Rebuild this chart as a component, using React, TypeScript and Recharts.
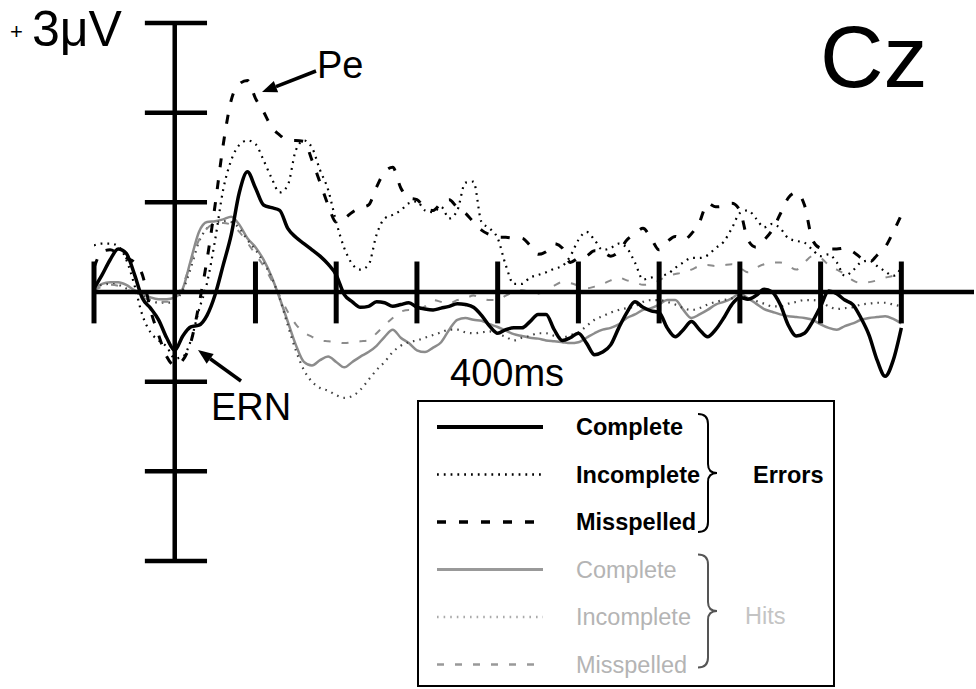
import React from "react";
import { LineChart, Line, XAxis, YAxis, ReferenceLine } from "recharts";

// time in ms, amplitude in microvolts (positive up)
const times = [
  -100, -90, -80, -70, -60, -50, -40, -30, -20, -10,
  0, 10, 20, 30, 40, 50, 60, 70, 80, 90,
  100, 110, 120, 130, 140, 150, 160, 170, 180, 190,
  200, 210, 220, 230, 240, 250, 260, 270, 280, 290,
  300, 310, 320, 330, 340, 350, 360, 370, 380, 390,
  400, 410, 420, 430, 440, 450, 460, 470, 480, 490,
  500, 510, 520, 530, 540, 550, 560, 570, 580, 590,
  600, 610, 620, 630, 640, 650, 660, 670, 680, 690,
  700, 710, 720, 730, 740, 750, 760, 770, 780, 790,
  800, 810, 820, 830, 840, 850, 860, 870, 880, 890, 900,
];

const errComplete = [
  0.04, 0.19, 0.36, 0.48, 0.43, 0.2, -0.07, -0.18, -0.31, -0.51,
  -0.65, -0.49, -0.39, -0.37, -0.26, -0.03, 0.3, 0.64, 1.11, 1.34,
  1.16, 0.97, 0.94, 0.91, 0.71, 0.61, 0.54, 0.47, 0.4, 0.31,
  0.19, -0.03, -0.11, -0.17, -0.16, -0.11, -0.12, -0.16, -0.14, -0.12,
  -0.17, -0.19, -0.2, -0.18, -0.16, -0.13, -0.14, -0.17, -0.26, -0.38,
  -0.46, -0.42, -0.4, -0.4, -0.33, -0.25, -0.25, -0.42, -0.54, -0.51,
  -0.46, -0.57, -0.7, -0.67, -0.59, -0.4, -0.23, -0.11, -0.17, -0.21,
  -0.23, -0.4, -0.5, -0.42, -0.33, -0.42, -0.5, -0.42, -0.29, -0.14,
  -0.06, -0.08, -0.04, 0.03, 0.0, -0.14, -0.37, -0.49, -0.46, -0.33,
  -0.16, 0.01, -0.02, -0.09, -0.14, -0.29, -0.48, -0.76, -0.94, -0.76, -0.4,
];

const errIncomplete = [
  0.52, 0.54, 0.54, 0.51, 0.36, 0.08, -0.26, -0.45, -0.54, -0.61,
  -0.74, -0.72, -0.54, -0.2, 0.1, 0.58, 1.14, 1.47, 1.64, 1.69,
  1.65, 1.47, 1.27, 1.11, 1.19, 1.58, 1.69, 1.61, 1.36, 1.14,
  0.78, 0.49, 0.31, 0.25, 0.3, 0.64, 0.82, 0.86, 0.91, 0.99,
  1.01, 0.91, 0.89, 0.95, 0.82, 0.91, 1.22, 1.23, 0.78, 0.71,
  0.6, 0.3, 0.09, 0.09, 0.16, 0.19, 0.22, 0.26, 0.29, 0.4,
  0.58, 0.67, 0.58, 0.47, 0.49, 0.54, 0.49, 0.33, 0.14, 0.16,
  0.18, 0.2, 0.27, 0.33, 0.38, 0.38, 0.41, 0.49, 0.56, 0.71,
  0.88, 0.91, 0.82, 0.72, 0.76, 0.71, 0.6, 0.57, 0.55, 0.47,
  0.4, 0.42, 0.33, 0.18, 0.24, 0.33, 0.35, 0.29, 0.23, 0.18, 0.27,
];

const errMisspelled = [
  0.27, 0.45, 0.47, 0.43, 0.38, 0.33, 0.19, -0.2, -0.48, -0.72,
  -0.82, -0.76, -0.56, -0.14, 0.36, 0.97, 1.64, 2.14, 2.32, 2.36,
  2.16, 2.01, 1.84, 1.75, 1.69, 1.69, 1.68, 1.47, 1.22, 0.97,
  0.78, 0.82, 0.89, 0.94, 0.97, 1.17, 1.34, 1.39, 1.16, 1.05,
  1.03, 0.94, 0.91, 0.99, 1.03, 0.94, 0.88, 0.78, 0.69, 0.64,
  0.61, 0.61, 0.6, 0.6, 0.52, 0.42, 0.45, 0.54, 0.49, 0.33,
  0.38, 0.4, 0.46, 0.45, 0.4, 0.45, 0.58, 0.65, 0.71, 0.6,
  0.47, 0.56, 0.62, 0.58, 0.65, 0.78, 0.99, 0.95, 0.96, 0.99,
  0.91, 0.58, 0.5, 0.58, 0.69, 0.87, 1.05, 1.11, 0.97, 0.58,
  0.49, 0.48, 0.48, 0.49, 0.45, 0.38, 0.33, 0.41, 0.5, 0.67, 0.86,
];

const hitComplete = [
  0.03, 0.09, 0.11, 0.11, 0.08, 0.02, -0.02, -0.06, -0.08, -0.08,
  -0.06, 0.04, 0.36, 0.67, 0.78, 0.79, 0.81, 0.84, 0.75, 0.6,
  0.5, 0.36, 0.17, -0.07, -0.33, -0.59, -0.78, -0.82, -0.76, -0.72,
  -0.78, -0.84, -0.78, -0.72, -0.67, -0.6, -0.5, -0.42, -0.51, -0.57,
  -0.65, -0.67, -0.62, -0.56, -0.42, -0.31, -0.29, -0.31, -0.32, -0.36,
  -0.39, -0.43, -0.47, -0.49, -0.51, -0.52, -0.54, -0.55, -0.56, -0.57,
  -0.56, -0.51, -0.46, -0.42, -0.4, -0.36, -0.29, -0.25, -0.2, -0.18,
  -0.14, -0.09, -0.09, -0.2, -0.29, -0.25, -0.2, -0.14, -0.11, -0.07,
  -0.02, -0.07, -0.13, -0.19, -0.22, -0.25, -0.27, -0.28, -0.29, -0.31,
  -0.36, -0.4, -0.42, -0.38, -0.35, -0.31, -0.29, -0.28, -0.27, -0.3, -0.35,
];

const hitIncomplete = [
  0.04, 0.08, 0.09, 0.08, 0.04, 0.0, -0.04, -0.09, -0.12, -0.12,
  -0.09, 0.02, 0.27, 0.56, 0.71, 0.77, 0.79, 0.78, 0.71, 0.58,
  0.47, 0.33, 0.16, -0.07, -0.37, -0.65, -0.87, -1.0, -1.07, -1.1,
  -1.15, -1.18, -1.16, -1.09, -0.98, -0.87, -0.78, -0.67, -0.6, -0.56,
  -0.54, -0.51, -0.48, -0.45, -0.42, -0.42, -0.45, -0.46, -0.45, -0.44,
  -0.47, -0.5, -0.54, -0.51, -0.49, -0.46, -0.46, -0.49, -0.51, -0.48,
  -0.45, -0.38, -0.31, -0.27, -0.23, -0.2, -0.18, -0.16, -0.11, -0.09,
  -0.09, -0.11, -0.14, -0.18, -0.2, -0.18, -0.14, -0.11, -0.09, -0.07,
  -0.04, -0.07, -0.1, -0.13, -0.16, -0.16, -0.13, -0.11, -0.09, -0.09,
  -0.11, -0.16, -0.19, -0.18, -0.17, -0.14, -0.13, -0.12, -0.12, -0.14, -0.16,
];

const hitMisspelled = [
  0.02, 0.06, 0.08, 0.07, 0.03, -0.01, -0.06, -0.09, -0.11, -0.11,
  -0.07, 0.08, 0.33, 0.58, 0.71, 0.76, 0.77, 0.75, 0.67, 0.55,
  0.42, 0.29, 0.13, -0.04, -0.22, -0.36, -0.45, -0.5, -0.54, -0.55,
  -0.56, -0.57, -0.56, -0.55, -0.54, -0.46, -0.37, -0.29, -0.22, -0.2,
  -0.2, -0.16, -0.09, -0.11, -0.13, -0.09, -0.07, -0.04, -0.07, -0.09,
  -0.09, -0.04, 0.0, 0.02, 0.0, -0.02, 0.02, 0.07, 0.11, 0.1,
  0.07, 0.04, 0.06, 0.09, 0.13, 0.16, 0.13, 0.11, 0.08, 0.09,
  0.13, 0.18, 0.2, 0.22, 0.25, 0.29, 0.3, 0.29, 0.3, 0.31,
  0.27, 0.22, 0.27, 0.31, 0.33, 0.33, 0.29, 0.25, 0.33, 0.4,
  0.38, 0.3, 0.25, 0.2, 0.13, 0.1, 0.11, 0.13, 0.16, 0.18, 0.2,
];

const timeTicks = [-100, 100, 200, 300, 400, 500, 600, 700, 800, 900];
const voltTicks = [-3, -2, -1, 1, 2, 3];

const series = [
  { key: "hc", name: "Complete", group: "hits", values: hitComplete, stroke: "#8c8c8c", legendStroke: "#999", width: 2.5, dash: undefined },
  { key: "hi", name: "Incomplete", group: "hits", values: hitIncomplete, stroke: "#444", legendStroke: "#aaa", width: 2.2, dash: "1.6 5" },
  { key: "hm", name: "Misspelled", group: "hits", values: hitMisspelled, stroke: "#8c8c8c", legendStroke: "#999", width: 2, dash: "7 11" },
  { key: "ec", name: "Complete", group: "errors", values: errComplete, stroke: "#000", legendStroke: "#000", width: 3.5, dash: undefined },
  { key: "ei", name: "Incomplete", group: "errors", values: errIncomplete, stroke: "#000", legendStroke: "#000", width: 2.2, dash: "1.8 5" },
  { key: "em", name: "Misspelled", group: "errors", values: errMisspelled, stroke: "#000", legendStroke: "#000", width: 3, dash: "9 13" },
];

const data = times.map((t, i) => {
  const row: Record<string, number> = { t };
  series.forEach((s) => (row[s.key] = s.values[i]));
  return row;
});

const FONT = "'Liberation Sans', Arial, Helvetica, sans-serif";

function Arrow({ x1, y1, x2, y2 }: { x1: number; y1: number; x2: number; y2: number }) {
  const dx = x2 - x1;
  const dy = y2 - y1;
  const len = Math.hypot(dx, dy);
  const ux = dx / len;
  const uy = dy / len;
  const bx = x2 - ux * 15;
  const by = y2 - uy * 15;
  const px = -uy * 6;
  const py = ux * 6;
  return (
    <g>
      <line x1={x1} y1={y1} x2={bx} y2={by} stroke="#000" strokeWidth={3.5} />
      <polygon points={`${x2},${y2} ${bx + px},${by + py} ${bx - px},${by - py}`} fill="#000" />
    </g>
  );
}

function Brace({ x, top, bottom, color }: { x: number; top: number; bottom: number; color: string }) {
  const mid = (top + bottom) / 2;
  const d = `M ${x} ${top} Q ${x + 10} ${top} ${x + 10} ${top + 10} L ${x + 10} ${mid - 9} Q ${x + 10} ${mid} ${x + 19} ${mid} Q ${x + 10} ${mid} ${x + 10} ${mid + 9} L ${x + 10} ${bottom - 10} Q ${x + 10} ${bottom} ${x} ${bottom}`;
  return <path d={d} fill="none" stroke={color} strokeWidth={2} />;
}

function LegendBox() {
  const rowY = (i: number) => 25 + i * 47.5;
  const ordered = [...series.filter((s) => s.group === "errors"), ...series.filter((s) => s.group === "hits")];
  return (
    <div
      style={{
        position: "absolute",
        left: 417,
        top: 400,
        width: 418,
        height: 287,
        border: "2px solid #000",
        boxSizing: "border-box",
        background: "#fff",
      }}
    >
      <svg width={414} height={283} style={{ position: "absolute", left: 0, top: 0 }}>
        {ordered.map((s, i) => {
          const err = s.group === "errors";
          return (
            <g key={s.key}>
              <line
                x1={18}
                x2={124}
                y1={rowY(i)}
                y2={rowY(i)}
                stroke={s.legendStroke}
                strokeWidth={err && !s.dash ? 4 : s.width + 0.5}
                strokeDasharray={s.dash}
              />
              <text
                x={157}
                y={rowY(i) + 8}
                fontFamily={FONT}
                fontSize={23.5}
                fontWeight={err ? 700 : 400}
                fill={err ? "#000" : "#b4b4b4"}
              >
                {s.name}
              </text>
            </g>
          );
        })}
        <Brace x={279} top={rowY(0) - 13} bottom={rowY(2) + 10} color="#000" />
        <Brace x={279} top={rowY(3) - 15} bottom={rowY(5) + 3} color="#555" />
        <text x={334} y={rowY(1) + 8} fontFamily={FONT} fontSize={23.5} fontWeight={700} fill="#000">
          Errors
        </text>
        <text x={326} y={rowY(4) + 7} fontFamily={FONT} fontSize={23.5} fill="#c4c4c4">
          Hits
        </text>
      </svg>
    </div>
  );
}

export default function App() {
  return (
    <div style={{ position: "absolute", left: 0, top: 0, width: 976, height: 689, background: "#fff", overflow: "hidden" }}>
      <LineChart width={976} height={689} data={data} margin={{ top: 23, right: 2, bottom: 128, left: 94 }}>
        <XAxis type="number" dataKey="t" domain={[-100, 990]} hide allowDataOverflow />
        <YAxis type="number" domain={[-3, 3]} hide allowDataOverflow />
        {series.map((s) => (
          <Line
            key={s.key}
            type="monotone"
            dataKey={s.key}
            stroke={s.stroke}
            strokeWidth={s.width}
            strokeDasharray={s.dash}
            dot={false}
            activeDot={false}
            isAnimationActive={false}
          />
        ))}
        <ReferenceLine y={0} stroke="#000" strokeWidth={4.5} ifOverflow="visible" />
        <ReferenceLine x={0} stroke="#000" strokeWidth={4.5} ifOverflow="visible" />
        {timeTicks.map((t) => (
          <ReferenceLine
            key={"t" + t}
            segment={[{ x: t, y: -0.35 }, { x: t, y: 0.34 }]}
            stroke="#000"
            strokeWidth={5}
            ifOverflow="visible"
          />
        ))}
        {voltTicks.map((v) => (
          <ReferenceLine
            key={"v" + v}
            segment={[{ x: -37, y: v }, { x: 40, y: v }]}
            stroke="#000"
            strokeWidth={4.5}
            ifOverflow="visible"
          />
        ))}
      </LineChart>

      <svg width={976} height={689} style={{ position: "absolute", left: 0, top: 0, pointerEvents: "none" }}>
        <text x={10} y={39} fontFamily={FONT} fontSize={22} fill="#000">+</text>
        <text x={32} y={46} fontFamily={FONT} fontSize={50} fill="#000">3μV</text>
        <text x={820} y={87} fontFamily={FONT} fontSize={88} fill="#000">Cz</text>
        <text x={317} y={78} fontFamily={FONT} fontSize={38} fill="#000">Pe</text>
        <Arrow x1={316} y1={71} x2={262} y2={92} />
        <text x={211} y={420} fontFamily={FONT} fontSize={38} fill="#000">ERN</text>
        <Arrow x1={241} y1={381} x2={198} y2={350} />
        <text x={450} y={386} fontFamily={FONT} fontSize={38} fill="#000">400ms</text>
      </svg>

      <LegendBox />
    </div>
  );
}
